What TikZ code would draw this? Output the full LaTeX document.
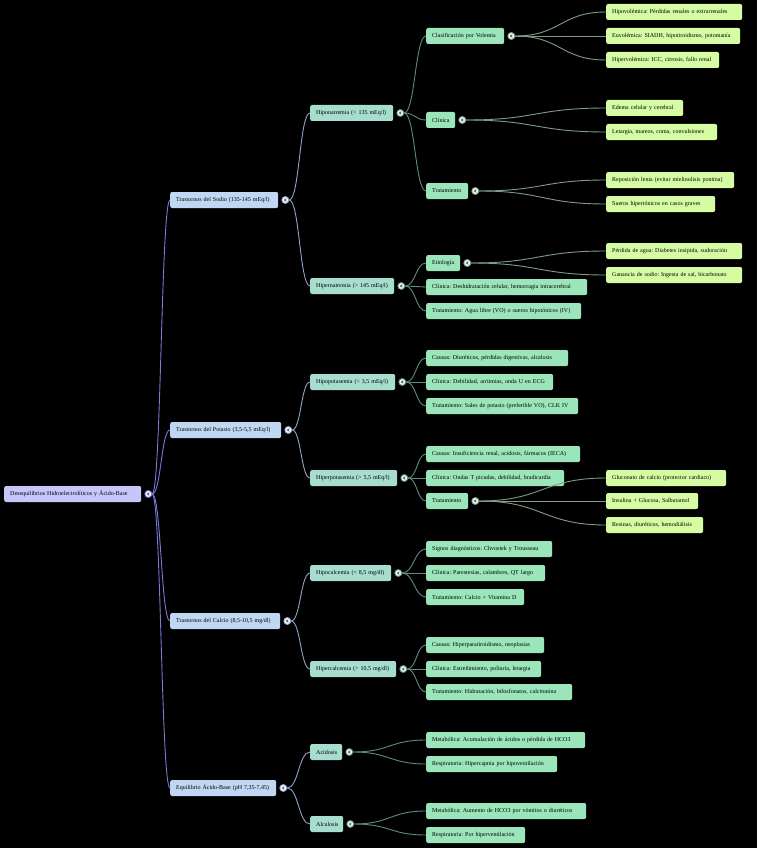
\documentclass[tikz,border=0pt]{standalone}
\usepackage{fontspec}
\setmainfont{Liberation Serif}
\usepackage{xcolor}
\usepackage{tikz}
\usetikzlibrary{positioning,calc}
\frenchspacing

\definecolor{rootfill}{HTML}{C6C6FB}
\definecolor{onefill}{HTML}{C0D7F4}
\definecolor{twofill}{HTML}{A6DDCF}
\definecolor{threefill}{HTML}{9BE5BA}
\definecolor{fourfill}{HTML}{D5FCA2}
\definecolor{linkA}{HTML}{7A7AD8}
\definecolor{linkB}{HTML}{8EA4C8}
\definecolor{linkC}{HTML}{5E8C7A}
\definecolor{linkD}{HTML}{7E9C86}

% curve from a toggle to a child box
\newcommand\mmlink[3]{\draw[#1] (#2) .. controls ($(#2)!.5!(#2-|#3)$) and ($(#3)!.5!(#3-|#2)$) .. (#3);}

\tikzset{
  box/.style={anchor=west, rounded corners=2pt, minimum height=16pt, inner xsep=6pt, inner ysep=0pt,
    align=left, font=\fontsize{6}{7}\selectfont, text=black},
  rootnode/.style={box, fill=rootfill},
  lvlone/.style={box, fill=onefill},
  lvltwo/.style={box, fill=twofill},
  lvlthree/.style={box, fill=threefill},
  lvlfour/.style={box, fill=fourfill},
  tog/.style={circle, inner sep=0pt, minimum size=7pt, line width=.8pt, right=3pt of #1,
    path picture={\draw[line width=.6pt, black!80, line cap=round, line join=round]
      ([xshift=.9pt,yshift=1.2pt]path picture bounding box.center) --
      ([xshift=-.9pt]path picture bounding box.center) --
      ([xshift=.9pt,yshift=-1.2pt]path picture bounding box.center);}},
  togroot/.style={tog=#1, draw=linkA, fill=white!85!rootfill},
  togone/.style={tog=#1, draw=linkB, fill=white!80!onefill},
  togtwo/.style={tog=#1, draw=linkC, fill=white!75!twofill},
  togthree/.style={tog=#1, draw=linkD, fill=white!75!threefill},
  linkone/.style={line width=.9pt, linkA},
  linktwo/.style={line width=.9pt, linkB},
  linkthree/.style={line width=.9pt, linkC},
  linkfour/.style={line width=.9pt, linkD},
}

\begin{document}
\begin{tikzpicture}[x=1pt,y=-1pt]
\useasboundingbox (0,0) rectangle (757,848);
\fill[black] (0,0) rectangle (757,848);

% Root
\node[rootnode, text width=125pt] (root) at (4,494) {Desequilibrios Hidroelectrolíticos y Ácido-Base};
\node[togroot=root] (troot) {};

% Main groups
\node[lvlone, text width=96pt] (sod) at (170,200) {Trastornos del Sodio (135-145 mEq/l)};
\node[lvlone, text width=99pt] (pot) at (170,430) {Trastornos del Potasio (3,5-5,5 mEq/l)};
\node[lvlone, text width=98pt] (cal) at (170,621) {Trastornos del Calcio (8,5-10,5 mg/dl)};
\node[lvlone, text width=94pt] (ab) at (170,788) {Equilibrio Ácido-Base (pH 7,35-7,45)};
\foreach \g in {sod,pot,cal,ab} \node[togone=\g] (t\g) {};

% Second level
\node[lvltwo, text width=71pt] (hipona) at (310,113) {Hiponatremia (< 135 mEq/l)};
\node[lvltwo, text width=72pt] (hiperna) at (310,286) {Hipernatremia (> 145 mEq/l)};
\node[lvltwo, text width=73pt] (hipok) at (310,382) {Hipopotasemia (< 3,5 mEq/l)};
\node[lvltwo, text width=75pt] (hiperk) at (310,478) {Hiperpotasemia (> 5,5 mEq/l)};
\node[lvltwo, text width=69pt] (hipoca) at (310,573) {Hipocalcemia (< 8,5 mg/dl)};
\node[lvltwo, text width=74pt] (hiperca) at (310,669) {Hipercalcemia (> 10,5 mg/dl)};
\node[lvltwo, text width=20pt] (acid) at (310,752) {Acidosis};
\node[lvltwo, text width=21pt] (alca) at (310,824) {Alcalosis};
\foreach \g in {hipona,hiperna,hipok,hiperk,hipoca,hiperca,acid,alca} \node[togtwo=\g] (t\g) {};

% Third level - Sodio
\node[lvlthree, text width=66pt] (clasif) at (426,36) {Clasificación por Volemia};
\node[lvlthree, text width=17pt] (clinna) at (426,120) {Clínica};
\node[lvlthree, text width=30pt] (tratna) at (426,191) {Tratamiento};
\node[lvlthree, text width=22pt] (etio) at (426,263) {Etiología};
\node[lvlthree, text width=149pt] (clinhna) at (426,287) {Clínica: Deshidratación celular, hemorragia intracerebral};
\node[lvlthree, text width=143pt] (trathna) at (426,311) {Tratamiento: Agua libre (VO) o sueros hipotónicos (IV)};

% Third level - Potasio
\node[lvlthree, text width=130pt] (causk) at (426,358) {Causas: Diuréticos, pérdidas digestivas, alcalosis};
\node[lvlthree, text width=115pt] (clink) at (426,382) {Clínica: Debilidad, arritmias, onda U en ECG};
\node[lvlthree, text width=140pt] (tratk) at (426,406) {Tratamiento: Sales de potasio (preferible VO), CLK IV};
\node[lvlthree, text width=142pt] (caushk) at (426,454) {Causas: Insuficiencia renal, acidosis, fármacos (IECA)};
\node[lvlthree, text width=126pt] (clinhk) at (426,478) {Clínica: Ondas T picudas, debilidad, bradicardia};
\node[lvlthree, text width=30pt] (trathk) at (426,501) {Tratamiento};

% Third level - Calcio
\node[lvlthree, text width=114pt] (signca) at (426,549) {Signos diagnósticos: Chvostek y Trousseau};
\node[lvlthree, text width=107pt] (clinca) at (426,573) {Clínica: Parestesias, calambres, QT largo};
\node[lvlthree, text width=86pt] (tratca) at (426,597) {Tratamiento: Calcio + Vitamina D};
\node[lvlthree, text width=106pt] (caushca) at (426,645) {Causas: Hiperparatiroidismo, neoplasias};
\node[lvlthree, text width=103pt] (clinhca) at (426,669) {Clínica: Estreñimiento, poliuria, letargia};
\node[lvlthree, text width=134pt] (trathca) at (426,692) {Tratamiento: Hidratación, bifosfonatos, calcitonina};

% Third level - Acido-Base
\node[lvlthree, text width=147pt] (metac) at (426,740) {Metabólica: Acumulación de ácidos o pérdida de HCO3};
\node[lvlthree, text width=119pt] (respac) at (426,764) {Respiratoria: Hipercapnia por hipoventilación};
\node[lvlthree, text width=148pt] (metal) at (426,811) {Metabólica: Aumento de HCO3 por vómitos o diuréticos};
\node[lvlthree, text width=87pt] (respal) at (426,835) {Respiratoria: Por hiperventilación};
\foreach \g in {clasif,clinna,tratna,etio,trathk} \node[togthree=\g] (t\g) {};

% Fourth level
\node[lvlfour, text width=124pt] (hipov) at (606,12) {Hipovolémica: Pérdidas renales o extrarrenales};
\node[lvlfour, text width=122pt] (euvol) at (606,36) {Euvolémica: SIADH, hipotiroidismo, potomanía};
\node[lvlfour, text width=101pt] (hiperv) at (606,60) {Hipervolémica: ICC, cirrosis, fallo renal};
\node[lvlfour, text width=65pt] (edema) at (606,108) {Edema celular y cerebral};
\node[lvlfour, text width=99pt] (letar) at (606,132) {Letargia, mareos, coma, convulsiones};
\node[lvlfour, text width=116pt] (repos) at (606,180) {Reposición lenta (evitar mielinolisis pontina)};
\node[lvlfour, text width=97pt] (sueros) at (606,204) {Sueros hipertónicos en casos graves};
\node[lvlfour, text width=124pt] (perd) at (606,251) {Pérdida de agua: Diabetes insípida, sudoración};
\node[lvlfour, text width=124pt] (gan) at (606,275) {Ganancia de sodio: Ingesta de sal, bicarbonato};
\node[lvlfour, text width=108pt] (gluc) at (606,478) {Gluconato de calcio (protector cardiaco)};
\node[lvlfour, text width=80pt] (insul) at (606,501) {Insulina + Glucosa, Salbutamol};
\node[lvlfour, text width=85pt] (resin) at (606,525) {Resinas, diuréticos, hemodiálisis};

% Links
\foreach \c in {sod,pot,cal,ab} {\mmlink{linkone}{troot.east}{\c.west}}
\foreach \c in {hipona,hiperna} {\mmlink{linktwo}{tsod.east}{\c.west}}
\foreach \c in {hipok,hiperk} {\mmlink{linktwo}{tpot.east}{\c.west}}
\foreach \c in {hipoca,hiperca} {\mmlink{linktwo}{tcal.east}{\c.west}}
\foreach \c in {acid,alca} {\mmlink{linktwo}{tab.east}{\c.west}}
\foreach \c in {clasif,clinna,tratna} {\mmlink{linkthree}{thipona.east}{\c.west}}
\foreach \c in {etio,clinhna,trathna} {\mmlink{linkthree}{thiperna.east}{\c.west}}
\foreach \c in {causk,clink,tratk} {\mmlink{linkthree}{thipok.east}{\c.west}}
\foreach \c in {caushk,clinhk,trathk} {\mmlink{linkthree}{thiperk.east}{\c.west}}
\foreach \c in {signca,clinca,tratca} {\mmlink{linkthree}{thipoca.east}{\c.west}}
\foreach \c in {caushca,clinhca,trathca} {\mmlink{linkthree}{thiperca.east}{\c.west}}
\foreach \c in {metac,respac} {\mmlink{linkthree}{tacid.east}{\c.west}}
\foreach \c in {metal,respal} {\mmlink{linkthree}{talca.east}{\c.west}}
\foreach \c in {hipov,euvol,hiperv} {\mmlink{linkfour}{tclasif.east}{\c.west}}
\foreach \c in {edema,letar} {\mmlink{linkfour}{tclinna.east}{\c.west}}
\foreach \c in {repos,sueros} {\mmlink{linkfour}{ttratna.east}{\c.west}}
\foreach \c in {perd,gan} {\mmlink{linkfour}{tetio.east}{\c.west}}
\foreach \c in {gluc,insul,resin} {\mmlink{linkfour}{ttrathk.east}{\c.west}}
\end{tikzpicture}
\end{document}
